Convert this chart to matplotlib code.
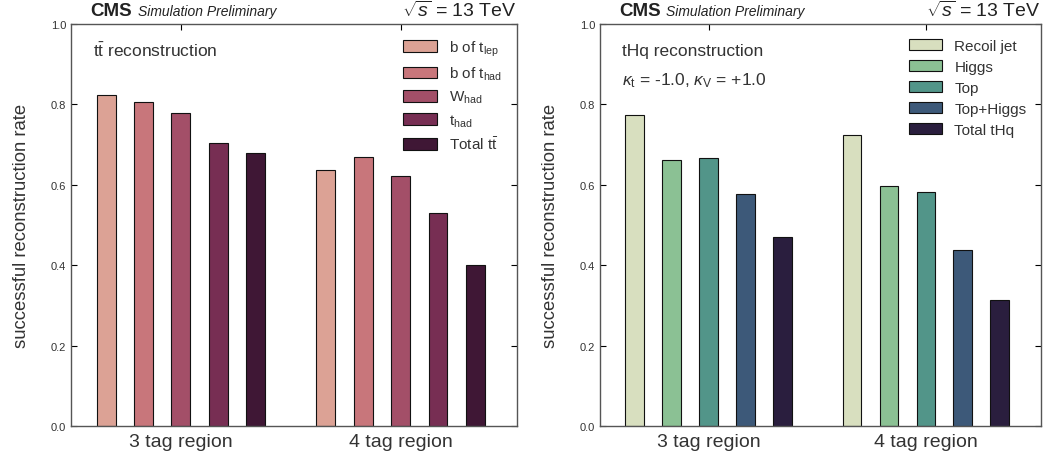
import numpy as np
import matplotlib
matplotlib.use("Agg")
import matplotlib.pyplot as plt

plt.rcParams['font.family'] = ['Liberation Sans', 'DejaVu Sans']
plt.rcParams['mathtext.fontset'] = 'custom'
plt.rcParams['mathtext.rm'] = 'Liberation Sans'
plt.rcParams['mathtext.it'] = 'Liberation Sans:italic'

regions = ['3 tag region', '4 tag region']

tt_labels = [r'b of t$_{\rm lep}$', r'b of t$_{\rm had}$', r'W$_{\rm had}$',
             r't$_{\rm had}$', r'Total t$\bar{\rm t}$']
tt_3tag = [0.823, 0.805, 0.778, 0.703, 0.678]
tt_4tag = [0.636, 0.668, 0.623, 0.529, 0.401]
tt_colors = ['#dca295', '#c8767b', '#a34f68', '#772e53', '#3f1735']

thq_labels = ['Recoil jet', 'Higgs', 'Top', 'Top+Higgs', 'Total tHq']
thq_3tag = [0.773, 0.661, 0.666, 0.576, 0.471]
thq_4tag = [0.723, 0.598, 0.581, 0.439, 0.314]
thq_colors = ['#d8dfbf', '#8bc194', '#529589', '#3d5979', '#2a1e3e']

fig = plt.figure(figsize=(10.49, 4.64), dpi=100)


def panel(rect, labels, vals3, vals4, colors, texts):
    ax = fig.add_axes(rect)
    step = 0.17
    width = 0.086
    for i in range(len(labels)):
        off = (i - 2) * step
        ax.bar([0 + off, 1 + off], [vals3[i], vals4[i]], width=width,
               color=colors[i], edgecolor='#111111', linewidth=0.8,
               label=labels[i])
    ax.set_xlim(-0.5, 1.53)
    ax.set_ylim(0, 1.0)
    ax.set_xticks([0, 1])
    ax.set_xticklabels(regions, fontsize=14)
    ax.set_yticks(np.arange(0, 1.01, 0.2))
    ax.set_yticklabels(['%.1f' % v for v in np.arange(0, 1.01, 0.2)], fontsize=8)
    ax.tick_params(axis='y', direction='in', length=4, right=True, labelcolor='#333333')
    ax.tick_params(axis='x', direction='in', length=4, top=True, bottom=False,
                   labelcolor='#333333', pad=5)
    for s in ax.spines.values():
        s.set_color('#555555')
        s.set_linewidth(1.0)
    ax.set_ylabel('successful reconstruction rate', fontsize=13.3, color='#333333', labelpad=15)
    leg = ax.legend(loc='upper right', frameon=False, fontsize=11,
                    handlelength=2.2, handleheight=0.8, labelspacing=0.45,
                    borderaxespad=0.55, handletextpad=0.8)
    for t in leg.get_texts():
        t.set_color('#333333')
    y = 0.935
    for t in texts:
        ax.text(0.05, y, t, transform=ax.transAxes, fontsize=12.5,
                color='#333333', va='center')
        y -= 0.073
    ax.text(0.0425, 1.022, 'CMS', transform=ax.transAxes, fontsize=13.5,
            fontweight='bold', color='#222222', va='baseline', ha='left')
    ax.text(0.15, 1.022, 'Simulation Preliminary', transform=ax.transAxes,
            fontsize=10, style='italic', color='#222222', va='baseline')
    ax.text(1.0, 1.02, r'$\sqrt{s}$ = 13 TeV', transform=ax.transAxes,
            fontsize=14, color='#222222', va='baseline', ha='right')
    return ax


panel([0.0677, 0.0797, 0.4252, 0.8664], tt_labels, tt_3tag, tt_4tag, tt_colors,
      [r't$\bar{\rm t}$ reconstruction'])
panel([0.572, 0.0797, 0.4204, 0.8664], thq_labels, thq_3tag, thq_4tag, thq_colors,
      ['tHq reconstruction',
       r'$\kappa_{\rm t}$ = -1.0, $\kappa_{\rm V}$ = +1.0'])

plt.savefig('out.png', dpi=100)
